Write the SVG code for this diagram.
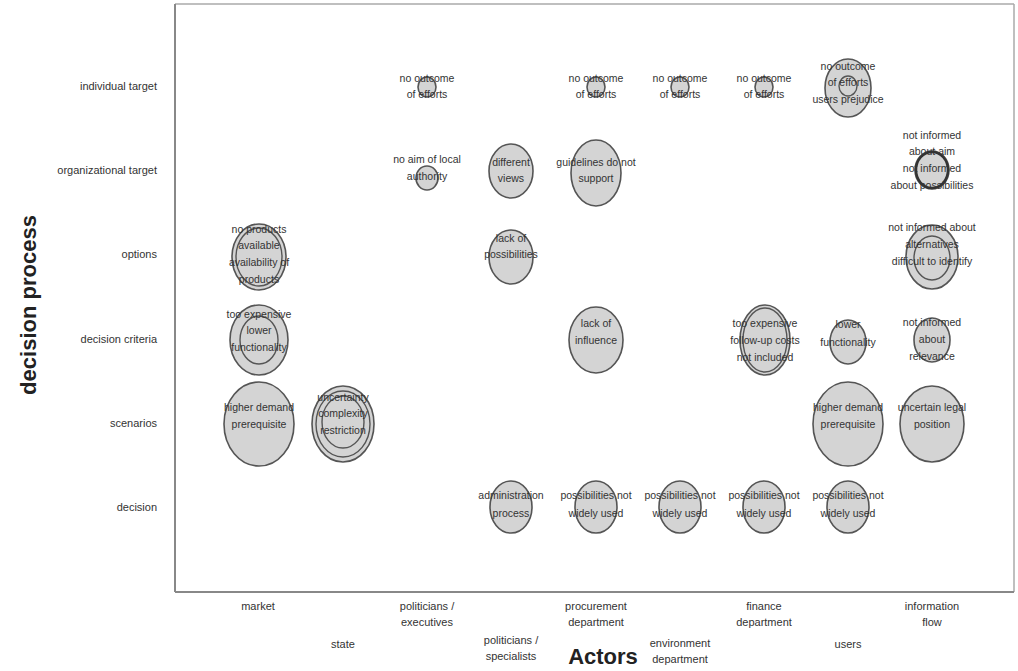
<svg xmlns="http://www.w3.org/2000/svg" width="1018" height="671" viewBox="0 0 1018 671">
<style>
text{font-family:"Liberation Sans",Arial,sans-serif;fill:#333;}
.t{font-size:10.5px;text-anchor:middle;}
.ax{font-size:11px;}
.yl{text-anchor:end;}
.c{fill:#d4d4d4;stroke:#555;stroke-width:1.6;}
.r{fill:none;stroke:#555;stroke-width:1.4;}
.k{fill:none;stroke:#333;stroke-width:2.5;}
.big{font-size:22px;font-weight:bold;fill:#222;}
</style>
<rect x="0" y="0" width="1018" height="671" fill="#fff"/>
<g id="frame">
<line x1="175" y1="4" x2="1014" y2="4" stroke="#aaa" stroke-width="1.5"/>
<line x1="1014" y1="4" x2="1014" y2="592" stroke="#aaa" stroke-width="1.5"/>
<line x1="175" y1="4" x2="175" y2="592" stroke="#888" stroke-width="2"/>
<line x1="175" y1="592" x2="1014" y2="592" stroke="#888" stroke-width="2"/>
</g>
<g id="y-axis">
<text class="ax yl" x="157" y="90">individual target</text>
<text class="ax yl" x="157" y="174">organizational target</text>
<text class="ax yl" x="157" y="258">options</text>
<text class="ax yl" x="157" y="343">decision criteria</text>
<text class="ax yl" x="157" y="427">scenarios</text>
<text class="ax yl" x="157" y="511">decision</text>
<text class="big" transform="translate(36,305) rotate(-90)" text-anchor="middle">decision process</text>
</g>
<g id="x-axis">
<text class="ax" text-anchor="middle" x="258" y="610">market</text>
<text class="ax" text-anchor="middle" x="343" y="648">state</text>
<text class="ax" text-anchor="middle" x="427" y="610">politicians /</text>
<text class="ax" text-anchor="middle" x="427" y="626">executives</text>
<text class="ax" text-anchor="middle" x="511" y="644">politicians /</text>
<text class="ax" text-anchor="middle" x="511" y="660">specialists</text>
<text class="ax" text-anchor="middle" x="596" y="610">procurement</text>
<text class="ax" text-anchor="middle" x="596" y="626">department</text>
<text class="ax" text-anchor="middle" x="680" y="647">environment</text>
<text class="ax" text-anchor="middle" x="680" y="663">department</text>
<text class="ax" text-anchor="middle" x="764" y="610">finance</text>
<text class="ax" text-anchor="middle" x="764" y="626">department</text>
<text class="ax" text-anchor="middle" x="848" y="648">users</text>
<text class="ax" text-anchor="middle" x="932" y="610">information</text>
<text class="ax" text-anchor="middle" x="932" y="626">flow</text>
<text class="big" x="603" y="664" text-anchor="middle">Actors</text>
</g>
<g id="connectors"></g>
<!-- individual target -->
<g id="n-it-pe"><ellipse class="c" cx="427" cy="87" rx="9" ry="10"/><text class="t" x="427" y="82">no outcome</text><text class="t" x="427" y="98">of efforts</text></g>
<g id="n-it-proc"><ellipse class="c" cx="596" cy="87" rx="9" ry="10"/><text class="t" x="596" y="82">no outcome</text><text class="t" x="596" y="98">of efforts</text></g>
<g id="n-it-env"><ellipse class="c" cx="680" cy="87" rx="9" ry="10"/><text class="t" x="680" y="82">no outcome</text><text class="t" x="680" y="98">of efforts</text></g>
<g id="n-it-fin"><ellipse class="c" cx="764" cy="87" rx="9" ry="10"/><text class="t" x="764" y="82">no outcome</text><text class="t" x="764" y="98">of efforts</text></g>
<g id="n-it-users"><ellipse class="c" cx="848" cy="88" rx="23" ry="29"/><ellipse class="r" cx="848" cy="86" rx="9" ry="10"/><text class="t" x="848" y="70">no outcome</text><text class="t" x="848" y="86">of efforts</text><text class="t" x="848" y="103">users prejudice</text></g>
<!-- organizational target -->
<g id="n-ot-pe"><ellipse class="c" cx="427" cy="178" rx="11" ry="12"/><text class="t" x="427" y="163">no aim of local</text><text class="t" x="427" y="180">authority</text></g>
<g id="n-ot-ps"><ellipse class="c" cx="511" cy="171" rx="22" ry="27"/><text class="t" x="511" y="166">different</text><text class="t" x="511" y="182">views</text></g>
<g id="n-ot-proc"><ellipse class="c" cx="596" cy="173" rx="25" ry="33"/><text class="t" x="596" y="166">guidelines do not</text><text class="t" x="596" y="182">support</text></g>
<g id="n-ot-info"><ellipse class="c" cx="932" cy="170" rx="17" ry="19"/><ellipse class="k" cx="932" cy="170" rx="16" ry="18"/><text class="t" x="932" y="139">not informed</text><text class="t" x="932" y="155">about aim</text><text class="t" x="932" y="172">not informed</text><text class="t" x="932" y="189">about possibilities</text></g>
<!-- options -->
<g id="n-op-market"><ellipse class="c" cx="259" cy="257" rx="27" ry="33"/><ellipse class="r" cx="259" cy="257" rx="23" ry="29"/><text class="t" x="259" y="233">no products</text><text class="t" x="259" y="249">available</text><text class="t" x="259" y="266">availability of</text><text class="t" x="259" y="283">products</text></g>
<g id="n-op-ps"><ellipse class="c" cx="511" cy="257" rx="22" ry="27"/><text class="t" x="511" y="242">lack of</text><text class="t" x="511" y="258">possibilities</text></g>
<g id="n-op-info"><ellipse class="c" cx="932" cy="257" rx="26" ry="32"/><ellipse class="r" cx="932" cy="258" rx="18" ry="22"/><text class="t" x="932" y="231">not informed about</text><text class="t" x="932" y="248">alternatives</text><text class="t" x="932" y="265">difficult to identify</text></g>
<!-- decision criteria -->
<g id="n-dc-market"><ellipse class="c" cx="259" cy="340" rx="29" ry="35"/><ellipse class="r" cx="259" cy="340" rx="19" ry="24"/><text class="t" x="259" y="318">too expensive</text><text class="t" x="259" y="334">lower</text><text class="t" x="259" y="351">functionality</text></g>
<g id="n-dc-proc"><ellipse class="c" cx="596" cy="340" rx="27" ry="33"/><text class="t" x="596" y="327">lack of</text><text class="t" x="596" y="344">influence</text></g>
<g id="n-dc-fin"><ellipse class="c" cx="765" cy="340" rx="25" ry="35"/><ellipse class="r" cx="765" cy="340" rx="22" ry="32"/><text class="t" x="765" y="327">too expensive</text><text class="t" x="765" y="344">follow-up costs</text><text class="t" x="765" y="361">not included</text></g>
<g id="n-dc-users"><ellipse class="c" cx="848" cy="342" rx="18" ry="22"/><text class="t" x="848" y="328">lower</text><text class="t" x="848" y="346">functionality</text></g>
<g id="n-dc-info"><ellipse class="c" cx="932" cy="340" rx="18" ry="22"/><text class="t" x="932" y="326">not informed</text><text class="t" x="932" y="343">about</text><text class="t" x="932" y="360">relevance</text></g>
<!-- scenarios -->
<g id="n-sc-market"><ellipse class="c" cx="259" cy="424" rx="35" ry="42"/><text class="t" x="259" y="411">higher demand</text><text class="t" x="259" y="428">prerequisite</text></g>
<g id="n-sc-state"><ellipse class="c" cx="343" cy="424" rx="31" ry="38"/><ellipse class="r" cx="343" cy="424" rx="27" ry="33"/><ellipse class="r" cx="343" cy="422" rx="21" ry="26"/><text class="t" x="343" y="401">uncertainty</text><text class="t" x="343" y="417">complexity</text><text class="t" x="343" y="434">restriction</text></g>
<g id="n-sc-users"><ellipse class="c" cx="848" cy="424" rx="35" ry="42"/><text class="t" x="848" y="411">higher demand</text><text class="t" x="848" y="428">prerequisite</text></g>
<g id="n-sc-info"><ellipse class="c" cx="932" cy="424" rx="32" ry="38"/><text class="t" x="932" y="411">uncertain legal</text><text class="t" x="932" y="428">position</text></g>
<!-- decision -->
<g id="n-de-ps"><ellipse class="c" cx="511" cy="507" rx="21" ry="26"/><text class="t" x="511" y="499">administration</text><text class="t" x="511" y="517">process</text></g>
<g id="n-de-proc"><ellipse class="c" cx="596" cy="507" rx="21" ry="26"/><text class="t" x="596" y="499">possibilities not</text><text class="t" x="596" y="517">widely used</text></g>
<g id="n-de-env"><ellipse class="c" cx="680" cy="507" rx="21" ry="26"/><text class="t" x="680" y="499">possibilities not</text><text class="t" x="680" y="517">widely used</text></g>
<g id="n-de-fin"><ellipse class="c" cx="764" cy="507" rx="21" ry="26"/><text class="t" x="764" y="499">possibilities not</text><text class="t" x="764" y="517">widely used</text></g>
<g id="n-de-users"><ellipse class="c" cx="848" cy="507" rx="21" ry="26"/><text class="t" x="848" y="499">possibilities not</text><text class="t" x="848" y="517">widely used</text></g>
</svg>
